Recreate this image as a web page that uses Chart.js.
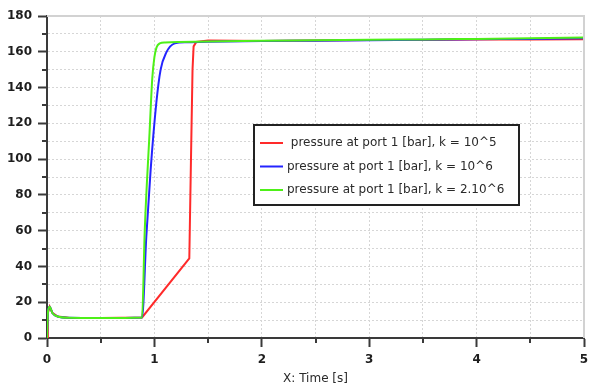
<!DOCTYPE html>
<html>
<head>
<meta charset="utf-8">
<script src="https://cdn.jsdelivr.net/npm/chart.js@4.4.0/dist/chart.umd.min.js"></script>
<style>
  html, body { margin: 0; padding: 0; background: #fff; }
</style>
</head>
<body>
<canvas id="myChart" width="590" height="387"></canvas>
<script>
// start-up transient, identical for all three runs
const timeStart = [0, 0.008, 0.025, 0.05, 0.1, 0.2, 0.5, 0.885];
const pressureStart = [0, 14, 17.5, 14, 12, 11.3, 11.2, 11.5];

// pressure rise after the valve switches
const timeRiseRed = [1.325, 1.34, 1.355, 1.365, 1.39, 1.5];
const pressureRiseRed = [44.5, 98, 150, 163, 165.5, 166.3];
const timeRiseBlue = [0.925, 0.965, 1.018, 1.058, 1.11, 1.19, 1.3, 1.5];
const pressureRiseBlue = [57, 94, 131.5, 150, 159.5, 164.7, 165.3, 165.6];
const timeRiseGreen = [0.91, 0.955, 0.98, 1.0, 1.02, 1.05, 1.1, 1.5];
const pressureRiseGreen = [60, 115, 145, 157, 162.5, 164.7, 165.2, 165.7];

// settled pressure
const timeSettled = [2, 2.5, 3, 3.5, 4, 4.5, 5];
const pressureSettledRed = [166, 166.3, 166.6, 166.6, 166.8, 166.9, 167];
const pressureSettledBlue = [166, 166.2, 166.5, 166.7, 167, 167.2, 167.6];
const pressureSettledGreen = [166.2, 166.4, 166.7, 166.9, 167.2, 167.5, 168];

const seriesLabels = [
  ' pressure at port 1 [bar], k = 10^5',
  'pressure at port 1 [bar], k = 10^6',
  'pressure at port 1 [bar], k = 2.10^6'
];
const seriesColors = ['#ff2a2a', '#2424ff', '#4ef018'];

function points(times, values) {
  return times.map((t, i) => ({ x: t, y: values[i] }));
}

function series(riseT, riseP, settledP) {
  return points(timeStart, pressureStart)
    .concat(points(riseT, riseP))
    .concat(points(timeSettled, settledP));
}

const font = '"DejaVu Sans", sans-serif';

// minor ticks, plot frame and the boxed legend
const extras = {
  id: 'extras',
  afterDraw(chart) {
    const c = chart.ctx;
    const area = chart.chartArea;
    const xs = chart.scales.x, ys = chart.scales.y;
    c.save();
    c.strokeStyle = '#d2d2d2';
    c.lineWidth = 2;
    c.beginPath();
    c.moveTo(area.left, area.top);
    c.lineTo(area.right, area.top);
    c.lineTo(area.right, area.bottom);
    c.stroke();

    c.strokeStyle = '#3a3a3a';
    c.lineWidth = 2;
    c.beginPath();
    for (let v = 0.5; v < 5; v += 1) {
      const px = Math.round(xs.getPixelForValue(v));
      c.moveTo(px, area.bottom);
      c.lineTo(px, area.bottom + 5);
    }
    for (let v = 10; v < 180; v += 20) {
      const py = Math.round(ys.getPixelForValue(v));
      c.moveTo(area.left - 5, py);
      c.lineTo(area.left, py);
    }
    c.stroke();

    const left = 254, top = 125, w = 265, h = 80;
    c.fillStyle = '#fff';
    c.fillRect(left, top, w, h);
    c.strokeStyle = '#222';
    c.lineWidth = 2;
    c.strokeRect(left, top, w, h);
    c.font = '12px ' + font;
    c.textBaseline = 'middle';
    chart.data.datasets.forEach((ds, i) => {
      const y = top + 18 + i * 23.5;
      c.strokeStyle = ds.borderColor;
      c.lineWidth = 2;
      c.beginPath();
      c.moveTo(left + 6, y);
      c.lineTo(left + 29, y);
      c.stroke();
      c.fillStyle = '#2a2a2a';
      c.fillText(ds.label, left + 33, y);
    });
    c.restore();
  }
};

let ctx = document.getElementById('myChart').getContext('2d');
let myChart = new Chart(ctx, {
  type: 'line',
  data: {
    datasets: [
      {
        label: seriesLabels[0],
        data: series(timeRiseRed, pressureRiseRed, pressureSettledRed),
        borderColor: seriesColors[0],
        order: 3
      },
      {
        label: seriesLabels[1],
        data: series(timeRiseBlue, pressureRiseBlue, pressureSettledBlue),
        borderColor: seriesColors[1],
        cubicInterpolationMode: 'monotone',
        order: 2
      },
      {
        label: seriesLabels[2],
        data: series(timeRiseGreen, pressureRiseGreen, pressureSettledGreen),
        borderColor: seriesColors[2],
        cubicInterpolationMode: 'monotone',
        order: 1
      }
    ]
  },
  options: {
    responsive: false,
    animation: false,
    layout: { padding: { left: 0, right: 6, top: 16, bottom: 0 } },
    plugins: {
      legend: { display: false },
      tooltip: { enabled: false }
    },
    elements: {
      point: { radius: 0 },
      line: { borderWidth: 2, fill: false }
    },
    scales: {
      x: {
        type: 'linear',
        min: 0,
        max: 5,
        afterFit: (s) => { s.height = 49; s.paddingLeft = 0; s.paddingRight = 0; },
        ticks: {
          stepSize: 0.5,
          autoSkip: false,
          maxRotation: 0,
          padding: 6,
          color: '#1e1e1e',
          font: { family: font, size: 12, weight: 'bold' },
          callback: (v) => Number.isInteger(v) ? v : ''
        },
        grid: {
          color: '#d6d6d6',
          tickColor: (c) => Number.isInteger(c.tick.value) ? '#3a3a3a' : 'transparent',
          tickLength: 9,
          tickWidth: 2,
          tickBorderDash: []
        },
        border: { color: '#3a3a3a', width: 2, dash: [2, 2] },
        title: {
          display: true,
          text: 'X: Time [s]',
          color: '#2a2a2a',
          font: { family: font, size: 12 },
          padding: { top: 0, bottom: 1 }
        }
      },
      y: {
        min: 0,
        max: 180,
        afterFit: (s) => { s.width = 47; },
        ticks: {
          stepSize: 10,
          autoSkip: false,
          padding: 6,
          color: '#1e1e1e',
          font: { family: font, size: 12, weight: 'bold' },
          callback: (v) => v % 20 === 0 ? v : ''
        },
        grid: {
          color: '#d6d6d6',
          tickColor: (c) => c.tick.value % 20 === 0 ? '#3a3a3a' : 'transparent',
          tickLength: 9,
          tickWidth: 2,
          tickBorderDash: []
        },
        border: { color: '#3a3a3a', width: 2, dash: [2, 2] }
      }
    }
  },
  plugins: [extras]
});
</script>
</body>
</html>
